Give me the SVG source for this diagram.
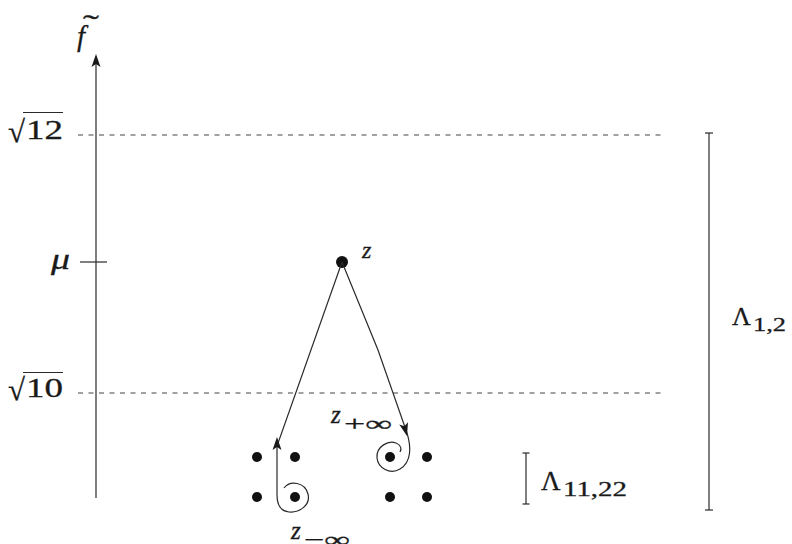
<svg xmlns="http://www.w3.org/2000/svg" width="792" height="544" viewBox="0 0 792 544">
<style>
.t{font-family:"Liberation Serif","Times New Roman",serif;fill:#1a1a1a;stroke:#1a1a1a;stroke-width:0.3}
.i{font-style:italic}
.ln{stroke:#2a2a2a;stroke-width:1.2;fill:none}
.dash{stroke:#444;stroke-width:1;stroke-dasharray:5 5.5;fill:none}
.dot{fill:#111}
.ah{fill:#1a1a1a}
</style>
<defs>
<path id="arrow" d="M0,0 L-4.5,13 L0,10 L4.5,13 Z"/>
</defs>
<rect width="792" height="544" fill="#fff"/>

<g id="axis">
<line class="ln" x1="96" y1="60" x2="96" y2="498"/>
<use href="#arrow" class="ah" x="96" y="54"/>
<line class="ln" x1="80" y1="262" x2="107" y2="262"/>
<text class="t i" x="77" y="46" font-size="29">f</text>
<text class="t" x="83" y="35" font-size="30" textLength="16" lengthAdjust="spacingAndGlyphs">˜</text>
</g>

<g id="level-sqrt12">
<line class="dash" x1="78" y1="135" x2="666" y2="135"/>
<text class="t" x="8" y="142" font-size="31">√</text>
<line class="ln" x1="23" y1="112.5" x2="63" y2="112.5"/>
<text class="t" x="26" y="139" font-size="28" textLength="37" lengthAdjust="spacingAndGlyphs">12</text>
</g>

<g id="level-sqrt10">
<line class="dash" x1="78" y1="393" x2="666" y2="393"/>
<text class="t" x="8" y="400" font-size="31">√</text>
<line class="ln" x1="23" y1="372.5" x2="63" y2="372.5"/>
<text class="t" x="26" y="397" font-size="28" textLength="37" lengthAdjust="spacingAndGlyphs">10</text>
</g>

<g id="level-mu">
<text class="t i" x="51" y="269" font-size="29" textLength="19" lengthAdjust="spacingAndGlyphs">μ</text>
</g>

<g id="range-lambda12">
<line class="ln" x1="709" y1="133" x2="709" y2="510" stroke="#555"/>
<line class="ln" x1="705" y1="133" x2="713" y2="133"/>
<line class="ln" x1="705" y1="510" x2="713" y2="510"/>
<text class="t" x="732" y="325" font-size="26">Λ</text>
<text class="t" x="753" y="331" font-size="19" textLength="33" lengthAdjust="spacingAndGlyphs">1,2</text>
</g>

<g id="range-lambda1122">
<line class="ln" x1="526" y1="453" x2="526" y2="504" stroke="#555"/>
<line class="ln" x1="522.5" y1="453" x2="529.5" y2="453"/>
<line class="ln" x1="522.5" y1="504" x2="529.5" y2="504"/>
<text class="t" x="541" y="490" font-size="27">Λ</text>
<text class="t" x="563" y="496" font-size="20" textLength="64" lengthAdjust="spacingAndGlyphs">11,22</text>
</g>

<g id="node-z">
<circle class="dot" cx="342" cy="262" r="6"/>
<text class="t i" x="362" y="258" font-size="24">z</text>
</g>

<g id="critical-points">
<circle class="dot" cx="257" cy="457" r="5"/>
<circle class="dot" cx="295" cy="457" r="5"/>
<circle class="dot" cx="257" cy="497" r="5"/>
<circle class="dot" cx="295" cy="497" r="5"/>
<circle class="dot" cx="390" cy="457" r="5"/>
<circle class="dot" cx="427" cy="457" r="5"/>
<circle class="dot" cx="390" cy="497" r="5"/>
<circle class="dot" cx="427" cy="497" r="5"/>
</g>

<g id="label-zplus">
<text class="t i" x="331" y="423" font-size="25">z</text>
<text class="t" x="344" y="431" font-size="22" textLength="48" lengthAdjust="spacingAndGlyphs">+∞</text>
</g>

<g id="label-zminus">
<text class="t i" x="291" y="539" font-size="25">z</text>
<text class="t" x="304" y="547" font-size="22" textLength="46" lengthAdjust="spacingAndGlyphs">−∞</text>
</g>

<g id="connectors">
<path class="ln" d="M284,488 C290,480 305,482 308,494 C311,506 298,513 289,512 C279,511 277,503 277,495 L277,446 L342,262"/>
<use href="#arrow" class="ah" transform="translate(277,437)"/>
<path class="ln" d="M342,262 L378,350 L407,433 C411,446 412,462 400,469 C390,475 378,468 377,458 C376,446 389,440 396,443 C401,445 402,449 400,452"/>
<use href="#arrow" class="ah" transform="translate(407,436) rotate(165)"/>
</g>
</svg>
